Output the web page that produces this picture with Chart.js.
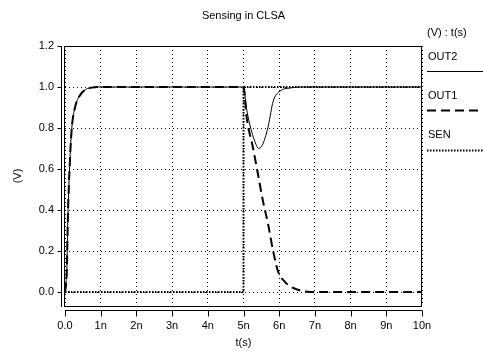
<!DOCTYPE html>
<html><head><meta charset="utf-8">
<script src="https://cdn.jsdelivr.net/npm/chart.js@4"></script>
<style>html,body{margin:0;padding:0;background:#fff}canvas{display:block}</style>
</head><body>
<canvas id="c" width="483" height="356"></canvas>
<script>
const chartTitle = 'Sensing in CLSA';
const xTicks = [0,1,2,3,4,5,6,7,8,9,10];
const yTicks = [0,0.2,0.4,0.6,0.8,1.0,1.2];
const seriesNames = ['OUT2','OUT1','SEN'];
// time in ns
const tOut1 = [0,0.03,0.05,0.08,0.14,0.19,0.28,0.42,0.6,0.75,0.9,5.0,5.09,5.27,5.41,5.55,5.69,5.83,5.97,6.16,6.39,6.67,7.0,10];
const out1  = [0,0.04,0.10,0.36,0.65,0.80,0.90,0.96,0.99,0.997,1.0,1.0,0.85,0.70,0.57,0.44,0.33,0.20,0.10,0.05,0.02,0.005,0,0];
const tOut2 = [0,0.03,0.05,0.08,0.14,0.19,0.28,0.42,0.6,0.75,0.9,5.0,5.08,5.18,5.32,5.43,5.55,5.7,5.83,6.02,6.3,6.6,10];
const out2  = [0,0.04,0.10,0.36,0.65,0.80,0.90,0.96,0.99,0.997,1.0,1.0,0.90,0.815,0.733,0.70,0.725,0.815,0.93,0.98,0.995,1.0,1.0];
const tSen = [0,5,5,10];
const sen  = [0,0,1,1];

const pts = (t,v)=>t.map((x,i)=>({x:x,y:v[i]}));
const FONT = "'Liberation Sans', Arial, sans-serif";

const deco = {
  id:'deco',
  afterDraw(chart){
    const {ctx, chartArea:a, scales:{x,y}} = chart;
    ctx.save();
    ctx.strokeStyle='#000'; ctx.lineWidth=1; ctx.setLineDash([]);
    // box
    ctx.strokeRect(Math.round(a.left)-0.5, Math.round(a.top)+0.5, Math.round(a.right-a.left), Math.round(a.bottom-a.top));
    // offset y axis
    const ax = Math.round(a.left)-3.5;
    ctx.beginPath(); ctx.moveTo(ax, a.top); ctx.lineTo(ax, a.bottom+1); ctx.stroke();
    yTicks.forEach(v=>{ const py=Math.round(y.getPixelForValue(v))+0.5; ctx.beginPath(); ctx.moveTo(ax-4,py); ctx.lineTo(ax,py); ctx.stroke();});
    // offset x axis
    const ay = Math.round(a.bottom)+4.5;
    ctx.beginPath(); ctx.moveTo(a.left, ay); ctx.lineTo(a.right, ay); ctx.stroke();
    xTicks.forEach(v=>{ const px=Math.round(x.getPixelForValue(v))+0.5; ctx.beginPath(); ctx.moveTo(px,ay); ctx.lineTo(px,ay+6); ctx.stroke();});
    // texts
    ctx.fillStyle='#000'; ctx.font='11px '+FONT; ctx.textBaseline='middle';
    ctx.textAlign='center';
    ctx.fillText(chartTitle, (a.left+a.right)/2, 16);
    ctx.fillText('t(s)', (a.left+a.right)/2, 343);
    ctx.save(); ctx.translate(18,(a.top+a.bottom)/2); ctx.rotate(-Math.PI/2); ctx.fillText('(V)',0,0); ctx.restore();
    // legend
    ctx.textAlign='left';
    ctx.fillText('(V) : t(s)', 427, 33);
    const ds = chart.data.datasets;
    const rows = [{ty:57, ly:71.5},{ty:96, ly:110.5},{ty:135, ly:150.5}];
    rows.forEach((r,i)=>{
      const d = ds[i];
      ctx.fillText(d.label, 428, r.ty);
      ctx.save(); ctx.lineWidth=d.borderWidth; ctx.setLineDash(d.borderDash||[]);
      ctx.beginPath(); ctx.moveTo(427, r.ly); ctx.lineTo(483, r.ly); ctx.stroke(); ctx.restore();
    });
    ctx.restore();
  }
};

new Chart(document.getElementById('c'), {
  type:'line',
  data:{datasets:[
    {label:seriesNames[0], data:pts(tOut2,out2), borderColor:'#000', borderWidth:1, pointRadius:0, cubicInterpolationMode:'monotone', fill:false},
    {label:seriesNames[1], data:pts(tOut1,out1), borderColor:'#000', borderWidth:2, borderDash:[9,5], pointRadius:0, cubicInterpolationMode:'monotone', fill:false},
    {label:seriesNames[2], data:pts(tSen,sen), borderColor:'#000', borderWidth:2, borderDash:[1.5,1.5], pointRadius:0, tension:0, fill:false}
  ]},
  options:{
    responsive:false, animation:false,
    layout:{padding:{left:0,top:46,right:61,bottom:0}},
    plugins:{legend:{display:false}, tooltip:{enabled:false}, title:{display:false}},
    scales:{
      x:{type:'linear', min:0, max:10,
        afterBuildTicks:s=>{s.ticks=xTicks.map(v=>({value:v}));},
        afterFit:s=>{s.height=50;},
        ticks:{callback:v=>v===0?'0.0':v+'n', color:'#000', font:{family:FONT,size:11}, padding:13, maxRotation:0, autoSkip:false},
        grid:{color:'#000', lineWidth:1, drawTicks:false},
        border:{display:false, dash:[1,3]}
      },
      y:{type:'linear', min:-0.068, max:1.2,
        afterBuildTicks:s=>{s.ticks=yTicks.map(v=>({value:v}));},
        afterFit:s=>{s.width=65;},
        ticks:{callback:v=>v.toFixed(1), color:'#000', font:{family:FONT,size:11}, padding:11},
        grid:{color:'#000', lineWidth:1, drawTicks:false},
        border:{display:false, dash:[1,3]}
      }
    }
  },
  plugins:[deco]
});
</script>
</body></html>
